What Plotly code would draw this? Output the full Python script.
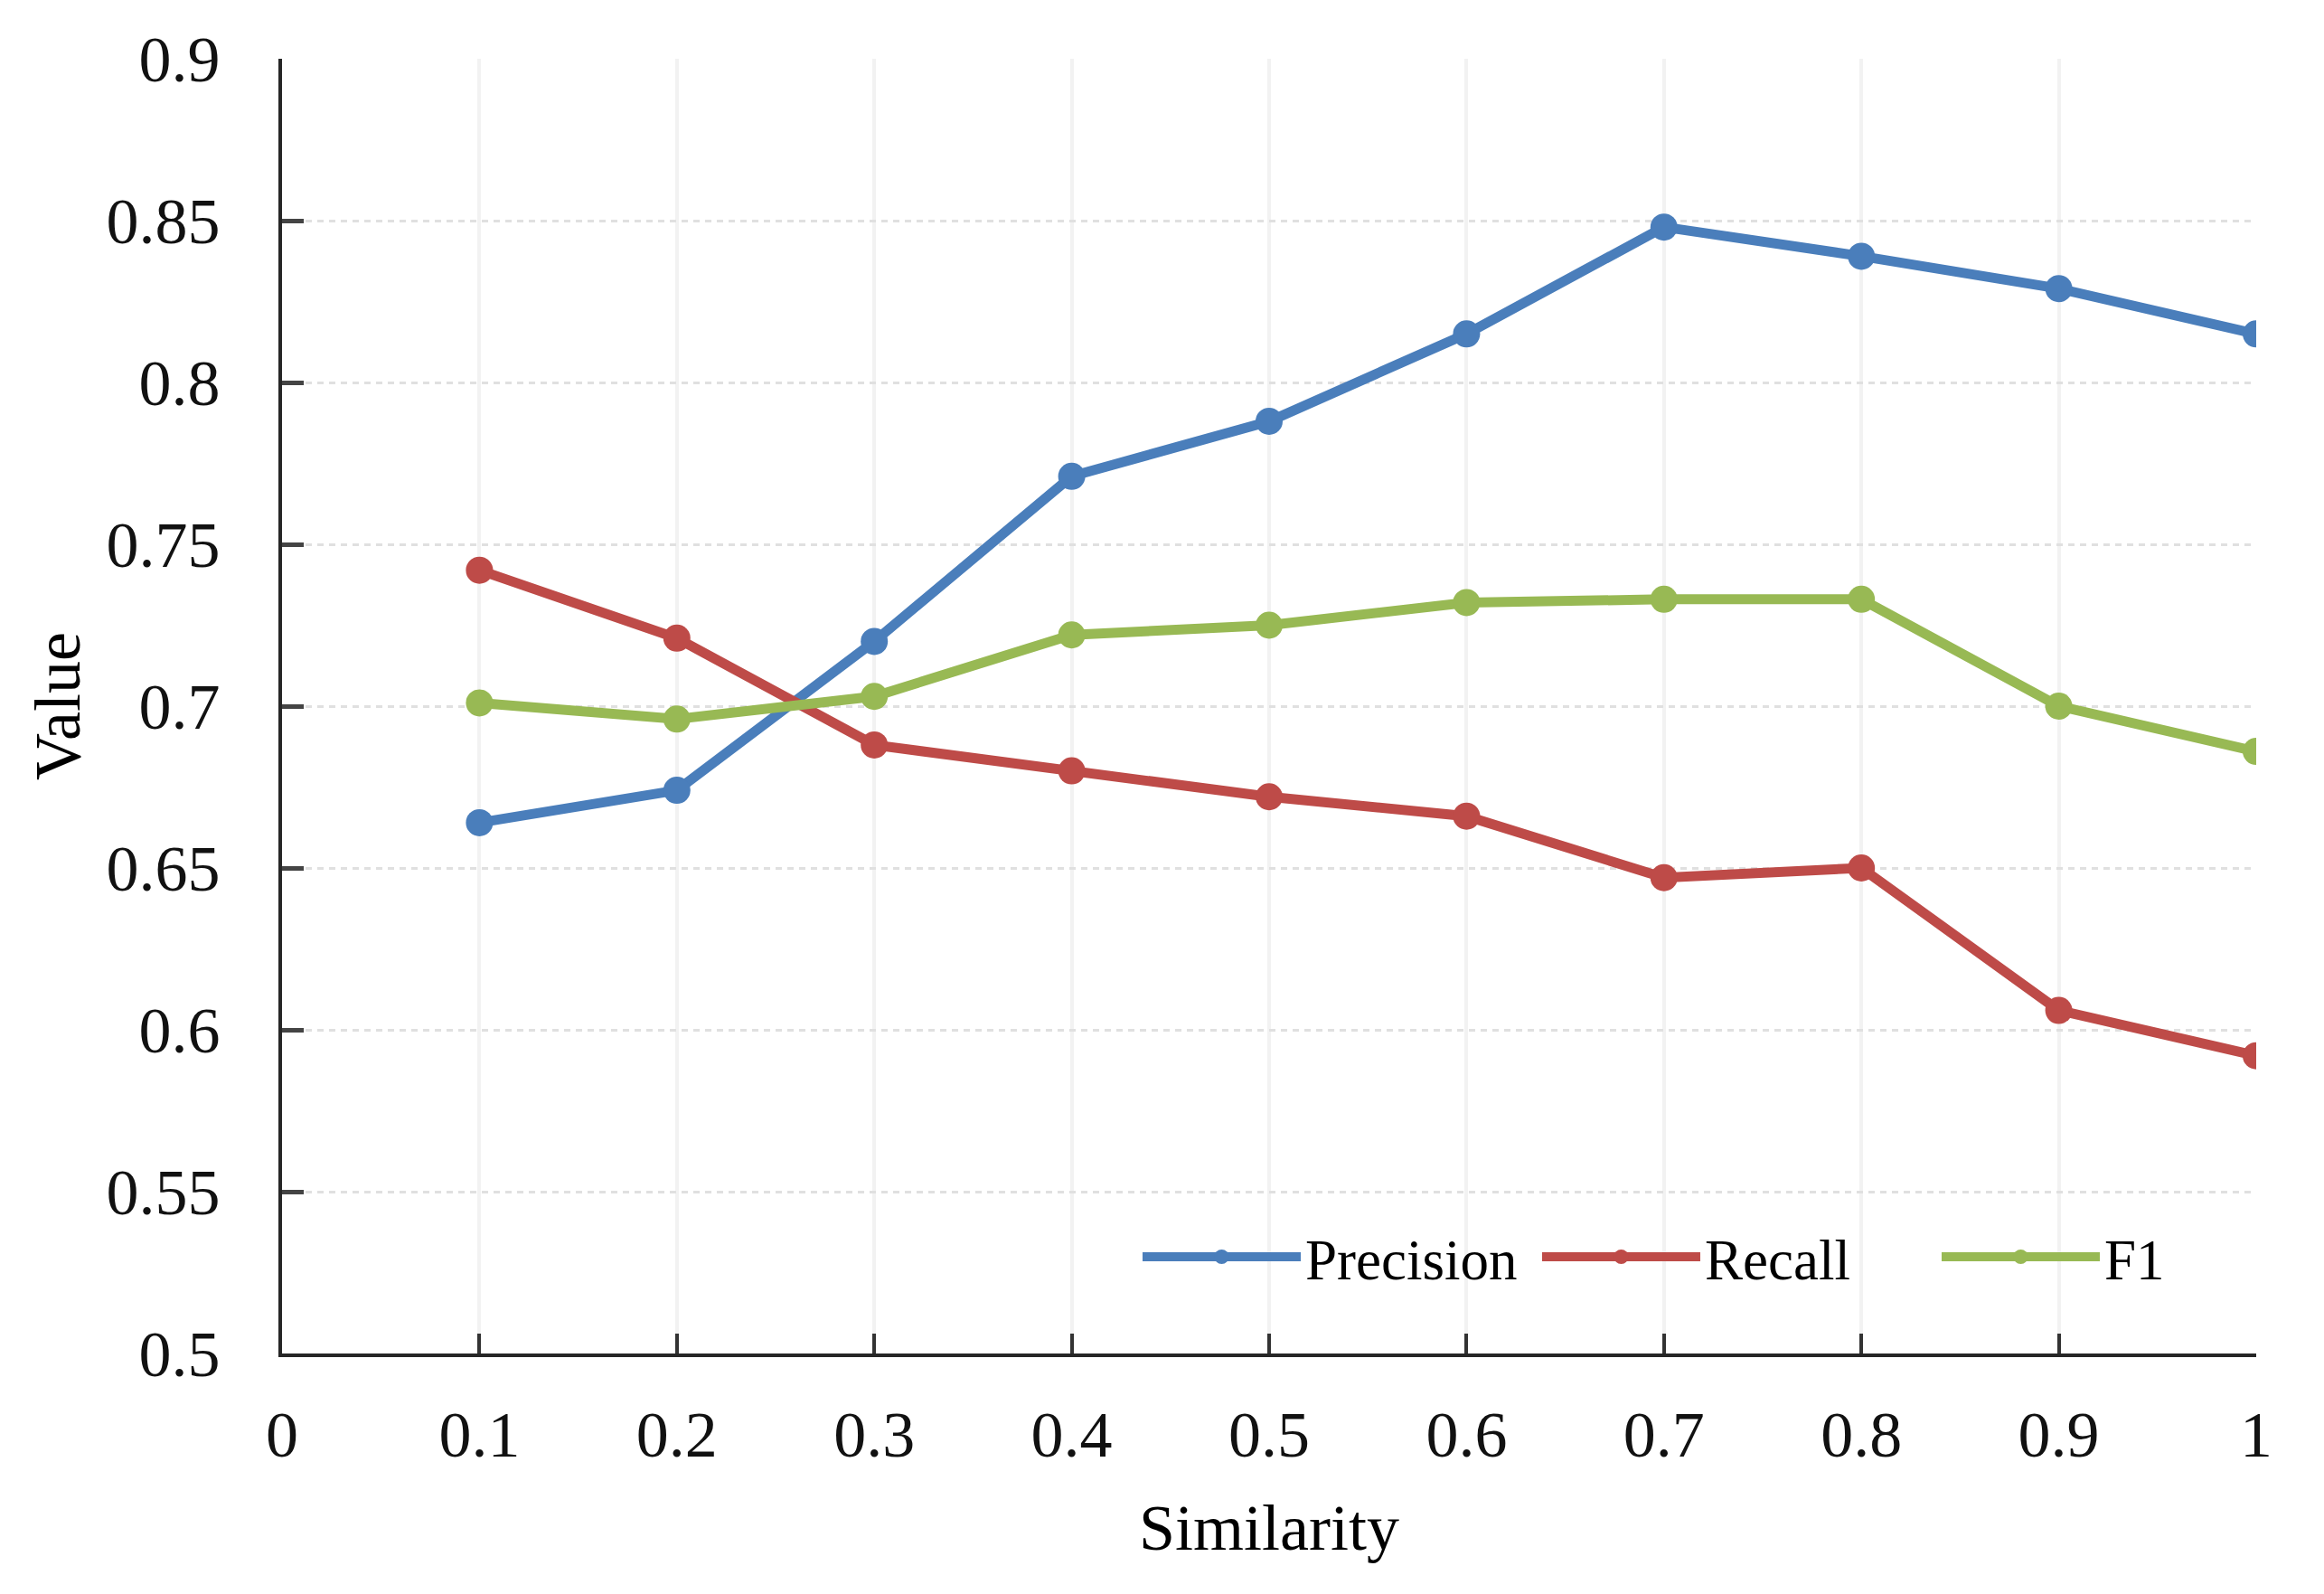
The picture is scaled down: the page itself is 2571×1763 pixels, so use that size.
import plotly.graph_objects as go

similarity = [0.1, 0.2, 0.3, 0.4, 0.5, 0.6, 0.7, 0.8, 0.9, 1.0]
precision = [0.664, 0.674, 0.720, 0.771, 0.788, 0.815, 0.848, 0.839, 0.829, 0.815]
recall = [0.742, 0.721, 0.688, 0.680, 0.672, 0.666, 0.647, 0.650, 0.606, 0.592]
f1 = [0.701, 0.696, 0.703, 0.722, 0.725, 0.732, 0.733, 0.733, 0.700, 0.686]

x_ticks = [0, 0.1, 0.2, 0.3, 0.4, 0.5, 0.6, 0.7, 0.8, 0.9, 1]
x_labels = ["0", "0.1", "0.2", "0.3", "0.4", "0.5", "0.6", "0.7", "0.8", "0.9", "1"]
y_ticks = [0.5, 0.55, 0.6, 0.65, 0.7, 0.75, 0.8, 0.85, 0.9]
y_labels = ["0.5", "0.55", "0.6", "0.65", "0.7", "0.75", "0.8", "0.85", "0.9"]

series = [
    ("Precision", precision, "#4A7EBB"),
    ("Recall", recall, "#BE4B48"),
    ("F1", f1, "#98B954"),
]

FONT = "Liberation Serif"

fig = go.Figure()
for name, vals, color in series:
    fig.add_trace(go.Scatter(
        x=similarity, y=vals, name=name, mode="lines+markers",
        line=dict(color=color, width=11),
        marker=dict(color=color, size=30),
    ))

fig.update_xaxes(
    range=[0, 1], tickmode="array", tickvals=x_ticks, ticktext=x_labels,
    showline=True, linecolor="#262626", linewidth=4,
    ticks="inside", ticklen=22, tickwidth=4, tickcolor="#333333",
    showgrid=True, gridcolor="#f2f2f2", gridwidth=4,
    zeroline=False,
    tickfont=dict(family=FONT, size=72, color="#111111"),
    ticklabelstandoff=24,
    title=dict(text="Similarity", font=dict(family=FONT, size=72, color="#000000"), standoff=38),
)
fig.update_yaxes(
    range=[0.5, 0.9], tickmode="array", tickvals=y_ticks, ticktext=y_labels,
    showline=True, linecolor="#262626", linewidth=4,
    ticks="inside", ticklen=24, tickwidth=5, tickcolor="#444444",
    showgrid=True, gridcolor="#e0e0e0", gridwidth=3, griddash="7px,6px",
    zeroline=False,
    tickfont=dict(family=FONT, size=72, color="#111111"),
    ticklabelstandoff=50,
    title=dict(text="Value", font=dict(family=FONT, size=72, color="#000000"), standoff=6),
)

fig.update_layout(
    width=2571, height=1763,
    margin=dict(l=304, r=83, t=57, b=274, autoexpand=False),
    paper_bgcolor="white", plot_bgcolor="white",
    showlegend=True,
    legend=dict(
        orientation="h", x=0.4336, y=0.0747, xanchor="left", yanchor="middle",
        font=dict(family=FONT, size=63, color="#000000"),
        bgcolor="rgba(0,0,0,0)",
        entrywidth=252, entrywidthmode="pixels",
        itemwidth=175,
    ),
)

fig.write_html("out.html")
